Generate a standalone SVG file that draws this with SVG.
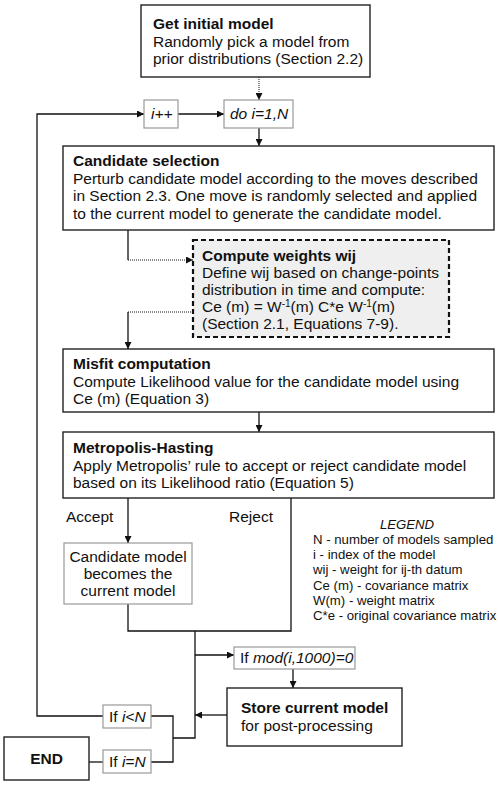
<svg xmlns="http://www.w3.org/2000/svg" width="500" height="785" viewBox="0 0 500 785">
<style>
text{font-family:"Liberation Sans",Arial,sans-serif;font-size:15.5px;fill:#111}
.b{font-weight:bold}
.i{font-style:italic}
.lg{font-size:13.2px}
.box{fill:#fff;stroke:#222;stroke-width:1.4}
.sbox{fill:#fff;stroke:#999;stroke-width:1.2}
.dash{fill:#efefef;stroke:#111;stroke-width:2.2;stroke-dasharray:5,3}
.c{fill:none;stroke:#111;stroke-width:1.3}
.d{fill:none;stroke:#111;stroke-width:1;stroke-dasharray:1,1}
.sup{font-size:10px}
</style>
<defs>
<marker id="ah" viewBox="0 0 10 10" refX="10" refY="5" markerWidth="7" markerHeight="7" markerUnits="userSpaceOnUse" orient="auto">
<path d="M0,0 L10,5 L0,10 z" fill="#111"/>
</marker>
</defs>

<g id="connectors">
<line class="d" x1="259" y1="77" x2="259" y2="100" marker-end="url(#ah)"/>
<line class="c" x1="178" y1="114" x2="224" y2="114" marker-end="url(#ah)"/>
<polyline class="c" points="103,716 37,716 37,114 144,114" marker-end="url(#ah)"/>
<line class="c" x1="259" y1="128" x2="259" y2="146" marker-end="url(#ah)"/>
<polyline class="c" points="128,230 128,260"/>
<line class="d" x1="128" y1="260" x2="193" y2="260" marker-end="url(#ah)"/>
<line class="d" x1="193" y1="312" x2="128" y2="312"/>
<line class="c" x1="128" y1="312" x2="128" y2="349" marker-end="url(#ah)"/>
<line class="c" x1="259" y1="412" x2="259" y2="432" marker-end="url(#ah)"/>
<line class="c" x1="128" y1="498" x2="128" y2="543" marker-end="url(#ah)"/>
<polyline class="c" points="291,498 291,631 128,631 128,604"/>
<polyline class="c" points="195,631 195,738 173,738"/>
<line class="c" x1="195" y1="655" x2="234" y2="655" marker-end="url(#ah)"/>
<line class="c" x1="293" y1="669" x2="293" y2="688" marker-end="url(#ah)"/>
<line class="c" x1="227" y1="715" x2="195" y2="715" marker-end="url(#ah)"/>
<polyline class="c" points="151,716 173,716 173,762 151,762"/>
<line class="c" x1="103" y1="762" x2="89" y2="762"/>
</g>

<g id="get-initial-model">
<rect class="box" x="141" y="5" width="229" height="72"/>
<text x="153" y="29" class="b">Get initial model</text>
<text x="153" y="46.5">Randomly pick a model from</text>
<text x="153" y="64">prior distributions (Section 2.2)</text>
</g>

<g id="i-plus-plus">
<rect class="sbox" x="144" y="100" width="34" height="28"/>
<text x="151" y="119" class="i">i++</text>
</g>

<g id="do-loop">
<rect class="sbox" x="224" y="100" width="69" height="28"/>
<text x="230" y="119" class="i">do i=1,N</text>
</g>

<g id="candidate-selection">
<rect class="box" x="63" y="146" width="431" height="84"/>
<text x="73" y="166" class="b">Candidate selection</text>
<text x="73" y="183.5">Perturb candidate model according to the moves described</text>
<text x="73" y="201">in Section 2.3. One move is randomly selected and applied</text>
<text x="73" y="218.5">to the current model to generate the candidate model.</text>
</g>

<g id="compute-weights">
<rect class="dash" x="193" y="240" width="256" height="97"/>
<text x="202" y="261" class="b">Compute weights wij</text>
<text x="202" y="278">Define wij based on change-points</text>
<text x="202" y="295">distribution in time and compute:</text>
<text x="202" y="312">Ce (m) = W<tspan class="sup" dy="-5">-1</tspan><tspan dy="5">(m) C*e W</tspan><tspan class="sup" dy="-5">-1</tspan><tspan dy="5">(m)</tspan></text>
<text x="202" y="329">(Section 2.1, Equations 7-9).</text>
</g>

<g id="misfit-computation">
<rect class="box" x="63" y="349" width="431" height="63"/>
<text x="73" y="369" class="b">Misfit computation</text>
<text x="73" y="386.5">Compute Likelihood value for the candidate model using</text>
<text x="73" y="404">Ce (m) (Equation 3)</text>
</g>

<g id="metropolis-hasting">
<rect class="box" x="63" y="432" width="431" height="66"/>
<text x="73" y="453" class="b">Metropolis-Hasting</text>
<text x="73" y="470.5">Apply Metropolis’ rule to accept or reject candidate model</text>
<text x="73" y="488">based on its Likelihood ratio (Equation 5)</text>
</g>

<g id="labels">
<text x="66" y="522">Accept</text>
<text x="229" y="522">Reject</text>
</g>

<g id="candidate-current">
<rect class="sbox" x="64" y="543" width="128" height="61"/>
<text x="128" y="562" text-anchor="middle">Candidate model</text>
<text x="128" y="579" text-anchor="middle">becomes the</text>
<text x="128" y="596" text-anchor="middle">current model</text>
</g>

<g id="legend">
<text x="407" y="529" class="lg i" text-anchor="middle">LEGEND</text>
<text x="313" y="544" class="lg">N - number of models sampled</text>
<text x="313" y="559.2" class="lg">i - index of the model</text>
<text x="313" y="574.4" class="lg">wij - weight for ij-th datum</text>
<text x="313" y="589.6" class="lg">Ce (m) - covariance matrix</text>
<text x="313" y="604.8" class="lg">W(m) - weight matrix</text>
<text x="313" y="620" class="lg">C*e - original covariance matrix</text>
</g>

<g id="if-mod">
<rect class="sbox" x="234" y="647" width="121" height="22"/>
<text x="240" y="663">If <tspan class="i">mod(i,1000)=0</tspan></text>
</g>

<g id="store-model">
<rect class="box" x="227" y="688" width="175" height="58"/>
<text x="241" y="713" class="b">Store current model</text>
<text x="241" y="731">for post-processing</text>
</g>

<g id="if-i-less-n">
<rect class="sbox" x="103" y="705" width="48" height="23"/>
<text x="109" y="722">If <tspan class="i">i&lt;N</tspan></text>
</g>

<g id="if-i-eq-n">
<rect class="sbox" x="103" y="750" width="48" height="23"/>
<text x="109" y="767">If <tspan class="i">i=N</tspan></text>
</g>

<g id="end">
<rect class="box" x="4" y="737" width="85" height="43"/>
<text x="46.5" y="764" class="b" text-anchor="middle">END</text>
</g>
</svg>
